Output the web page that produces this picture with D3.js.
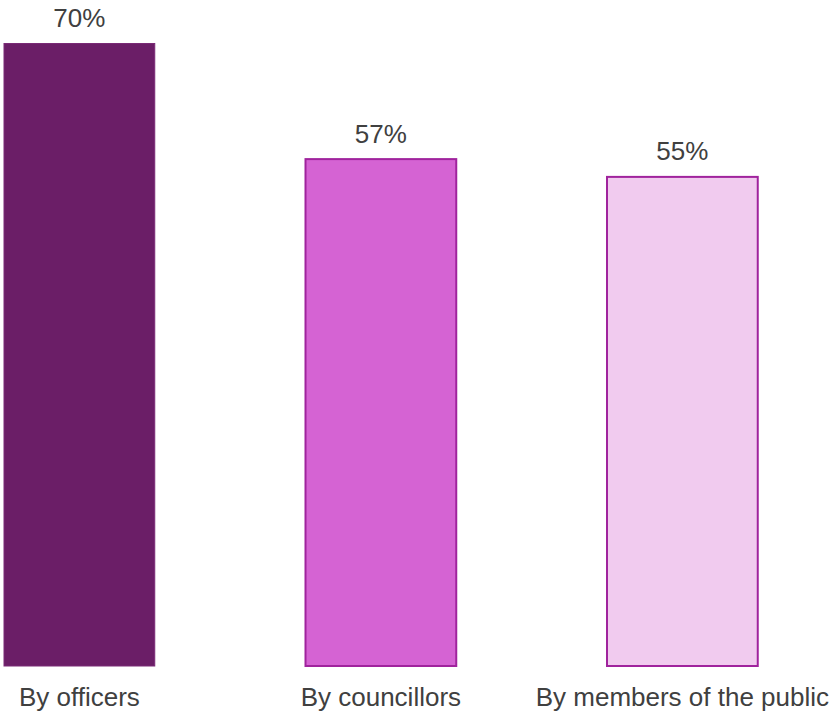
<!DOCTYPE html>
<html>
<head>
<meta charset="utf-8">
<script src="https://cdn.jsdelivr.net/npm/d3@7"></script>
<style>
  html, body { margin: 0; padding: 0; background: #fff; }
  svg { display: block; }
</style>
</head>
<body>
<svg id="chart" width="835" height="713"></svg>
<script>
// Chart data
const categories = ["By officers", "By councillors", "By members of the public"];
const values = [70, 57, 55];
const valueLabels = ["70%", "57%", "55%"];
const fills = ["#6b1e67", "#d563d3", "#f1cbef"];
const strokes = ["#7a2a76", "#a0239d", "#a0239d"];

const svg = d3.select("#chart");
const baseline = 666;
const font = "'Liberation Sans', Arial, sans-serif";

const x = d3.scaleBand()
  .domain(categories)
  .range([4, 757.75])
  .paddingInner(0.5)
  .paddingOuter(0);

const y = d3.scaleLinear()
  .domain([0, 70])
  .range([baseline, 43.5]);

svg.append("g").selectAll("rect")
  .data(categories)
  .join("rect")
  .attr("x", d => x(d))
  .attr("y", (d, i) => y(values[i]))
  .attr("width", x.bandwidth())
  .attr("height", (d, i) => baseline - y(values[i]))
  .attr("fill", (d, i) => fills[i])
  .attr("stroke", (d, i) => strokes[i])
  .attr("stroke-width", (d, i) => i === 0 ? 1 : 2);

// Value labels above bars
svg.append("g").selectAll("text")
  .data(categories)
  .join("text")
  .attr("x", d => x(d) + x.bandwidth() / 2)
  .attr("y", (d, i) => y(values[i]) - 16.5)
  .attr("text-anchor", "middle")
  .attr("font-family", font)
  .attr("font-size", 26)
  .attr("fill", "#404040")
  .text((d, i) => valueLabels[i]);

// Category axis labels
const xAxis = d3.axisBottom(x).tickSize(0).tickPadding(0);
const axisG = svg.append("g")
  .attr("transform", `translate(0, ${baseline})`)
  .call(xAxis);
axisG.select(".domain").remove();
axisG.selectAll("text")
  .attr("y", 39.5)
  .attr("dy", 0)
  .attr("font-family", font)
  .attr("font-size", 26)
  .attr("fill", "#404040");
</script>
</body>
</html>
